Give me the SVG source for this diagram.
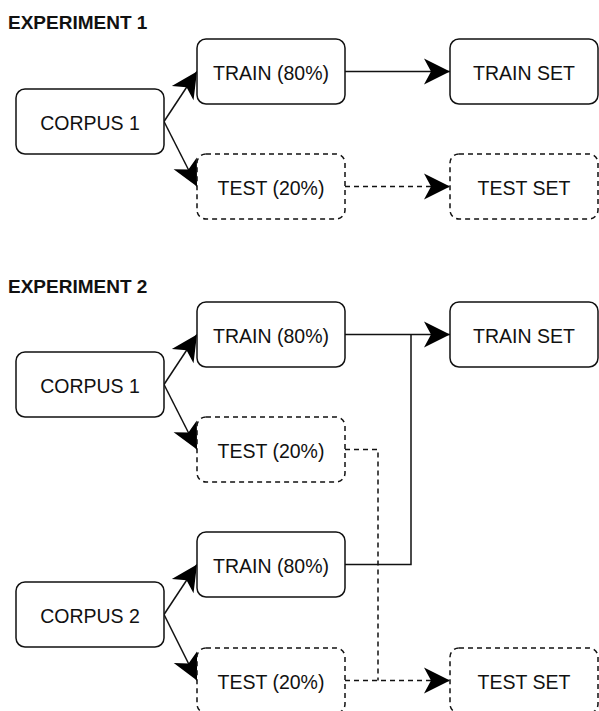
<svg xmlns="http://www.w3.org/2000/svg" width="599" height="711" viewBox="0 0 599 711">
<style>
.box{fill:#fff;stroke:#111;stroke-width:1.5}
.dash{stroke-dasharray:5 4}
.lbl{font-family:"Liberation Sans",Arial,sans-serif;font-size:19.5px;fill:#111;text-anchor:middle}
.title{font-family:"Liberation Sans",Arial,sans-serif;font-size:19px;font-weight:bold;fill:#111}
.edge{fill:none;stroke:#111;stroke-width:1.5}
</style>
<defs>
<marker id="arr" markerUnits="userSpaceOnUse" markerWidth="30" markerHeight="30" viewBox="-28 -15 30 30" refX="0" refY="0" orient="auto">
<path d="M0,0 L-26,-13 L-19,0 L-26,13 Z" fill="#000"/>
</marker>
</defs>
<rect width="599" height="711" fill="#fff"/>
<text class="title" x="8" y="29">EXPERIMENT 1</text>
<text class="title" x="8" y="293">EXPERIMENT 2</text>
<g id="connectors">
<path class="edge" d="M164,121.5 L197,71.5" marker-end="url(#arr)"/>
<path class="edge" d="M164,121.5 L197,186.5" marker-end="url(#arr)"/>
<path class="edge" d="M345,71.5 L450,71.5" marker-end="url(#arr)"/>
<path class="edge dash" d="M345,186.5 L450,186.5" marker-end="url(#arr)"/>
<path class="edge" d="M164,384.5 L197,334.5" marker-end="url(#arr)"/>
<path class="edge" d="M164,384.5 L197,449.5" marker-end="url(#arr)"/>
<path class="edge" d="M164,614.5 L197,564.5" marker-end="url(#arr)"/>
<path class="edge" d="M164,614.5 L197,680.5" marker-end="url(#arr)"/>
<path class="edge" d="M345,334.5 L450,334.5" marker-end="url(#arr)"/>
<path class="edge" d="M345,564.5 L411,564.5 L411,334.5"/>
<path class="edge dash" d="M345,680.5 L450,680.5" marker-end="url(#arr)"/>
<path class="edge dash" d="M345,449.5 L378,449.5 L378,680.5"/>
</g>
<g id="e1-corpus1"><rect class="box" x="16" y="89" width="148" height="65" rx="9"/><text class="lbl" x="90" y="129.5">CORPUS 1</text></g>
<g id="e1-train"><rect class="box" x="197" y="39" width="148" height="65" rx="9"/><text class="lbl" x="271" y="79.5">TRAIN (80%)</text></g>
<g id="e1-test"><rect class="box dash" x="197" y="154" width="148" height="65" rx="9"/><text class="lbl" x="271" y="194.5">TEST (20%)</text></g>
<g id="e1-trainset"><rect class="box" x="450" y="39" width="148" height="65" rx="9"/><text class="lbl" x="524" y="79.5">TRAIN SET</text></g>
<g id="e1-testset"><rect class="box dash" x="450" y="154" width="148" height="65" rx="9"/><text class="lbl" x="524" y="194.5">TEST SET</text></g>
<g id="e2-corpus1"><rect class="box" x="16" y="352" width="148" height="65" rx="9"/><text class="lbl" x="90" y="392.5">CORPUS 1</text></g>
<g id="e2-train1"><rect class="box" x="197" y="302" width="148" height="65" rx="9"/><text class="lbl" x="271" y="342.5">TRAIN (80%)</text></g>
<g id="e2-test1"><rect class="box dash" x="197" y="417" width="148" height="65" rx="9"/><text class="lbl" x="271" y="457.5">TEST (20%)</text></g>
<g id="e2-trainset"><rect class="box" x="450" y="302" width="148" height="65" rx="9"/><text class="lbl" x="524" y="342.5">TRAIN SET</text></g>
<g id="e2-corpus2"><rect class="box" x="16" y="582" width="148" height="65" rx="9"/><text class="lbl" x="90" y="622.5">CORPUS 2</text></g>
<g id="e2-train2"><rect class="box" x="197" y="532" width="148" height="65" rx="9"/><text class="lbl" x="271" y="572.5">TRAIN (80%)</text></g>
<g id="e2-test2"><rect class="box dash" x="197" y="648" width="148" height="65" rx="9"/><text class="lbl" x="271" y="688.5">TEST (20%)</text></g>
<g id="e2-testset"><rect class="box dash" x="450" y="648" width="148" height="65" rx="9"/><text class="lbl" x="524" y="688.5">TEST SET</text></g>
</svg>
